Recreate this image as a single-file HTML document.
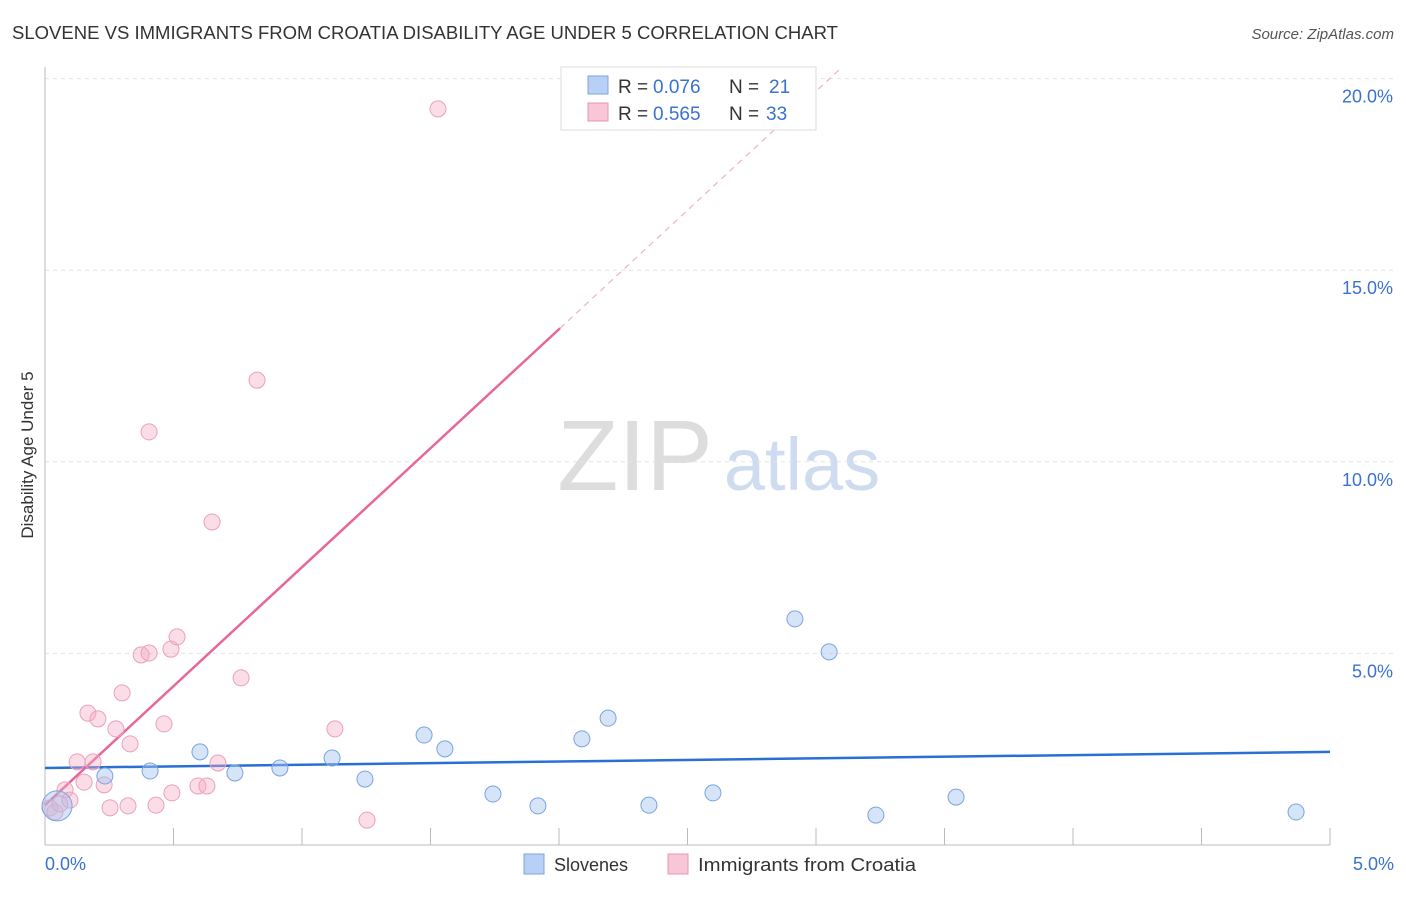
<!DOCTYPE html>
<html><head><meta charset="utf-8"><style>
body{margin:0;background:#fff;font-family:"Liberation Sans",sans-serif}
svg text{font-family:"Liberation Sans",sans-serif}
</style></head><body>
<svg id="chart" width="1406" height="892">
<text x="12" y="39" font-size="18" fill="#333" textLength="826" lengthAdjust="spacingAndGlyphs">SLOVENE VS IMMIGRANTS FROM CROATIA DISABILITY AGE UNDER 5 CORRELATION CHART</text>
<text x="1394" y="39" font-size="15" fill="#555" font-style="italic" text-anchor="end">Source: ZipAtlas.com</text>
<text x="33" y="455" font-size="17" fill="#333" text-anchor="middle" transform="rotate(-90 33 455)">Disability Age Under 5</text>
<g><text x="635" y="490" font-size="100" fill="#ddd" font-family="Liberation Serif" text-anchor="middle">ZIP</text><text x="802" y="490" font-size="74" fill="#cfdcf0" text-anchor="middle">atlas</text></g>
<g id="grid"></g><g id="lines"></g><g id="pts"></g>
<g>
<rect x="561" y="67" width="255" height="63" fill="#fff" stroke="#ddd"/>
<rect x="588" y="76" width="20" height="18" fill="#b8d0f5" stroke="#7aa4e0"/>
<rect x="588" y="103" width="20" height="18" fill="#f8c6d6" stroke="#e896b4"/>
<text y="93" font-size="19" fill="#333"><tspan x="618">R =</tspan><tspan x="653" fill="#3a72d0">0.076</tspan><tspan x="729">N =</tspan><tspan x="769" fill="#3a72d0">21</tspan></text>
<text y="120" font-size="19" fill="#333"><tspan x="618">R =</tspan><tspan x="653" fill="#3a72d0">0.565</tspan><tspan x="729">N =</tspan><tspan x="766" fill="#3a72d0">33</tspan></text>
</g>
<g>
<rect x="524" y="854" width="20" height="20" fill="#b8d0f5" stroke="#7aa4e0"/>
<text x="554" y="871" font-size="18" fill="#333">Slovenes</text>
<rect x="668" y="854" width="20" height="20" fill="#f8c6d6" stroke="#e896b4"/>
<text x="698" y="871" font-size="18" fill="#333" textLength="218" lengthAdjust="spacingAndGlyphs">Immigrants from Croatia</text>
</g>
</svg>
<script>
const yTicks=[5,10,15,20];
const xTickLabels=["0.0%","5.0%"];
const blueX=[0.047,0.233,0.409,0.603,0.739,0.914,1.117,1.245,1.475,1.556,1.743,1.918,2.089,2.191,2.350,2.599,2.918,3.051,3.233,3.545,4.868];
const blueY=[1.02,1.80,1.93,2.43,1.88,2.01,2.27,1.72,2.87,2.51,1.33,1.02,2.77,3.31,1.04,1.36,5.90,5.04,0.78,1.25,0.86];
const pinkX=[0.019,0.039,0.058,0.078,0.097,0.125,0.152,0.167,0.187,0.206,0.230,0.253,0.276,0.300,0.323,0.331,0.374,0.405,0.405,0.432,0.463,0.490,0.494,0.514,0.595,0.630,0.650,0.673,0.763,0.825,1.128,1.253,1.529];
const pinkY=[0.97,0.86,1.07,1.44,1.17,2.17,1.64,3.44,2.17,3.29,1.57,0.97,3.03,3.97,1.02,2.64,4.96,5.01,10.78,1.04,3.16,5.11,1.36,5.43,1.54,1.54,8.43,2.14,4.36,12.13,3.03,0.65,19.21];
const blueLine=[2.01,2.43];
const pinkLine=[1.04,6.21];
const X=v=>45+v*257, Y=v=>845-v*38.32;
const NS="http://www.w3.org/2000/svg";
function mk(t,a,p){const e=document.createElementNS(NS,t);for(const k in a)e.setAttribute(k,a[k]);p.appendChild(e);return e;}
const grid=document.getElementById('grid');
yTicks.forEach(t=>{
 const l=mk('line',{x1:45,x2:1394,y1:Y(t),y2:Y(t),stroke:'#e4e4e4','stroke-dasharray':'4 4'},grid);
 
 
 const tx=mk('text',{x:1393,y:Y(t)+24,'font-size':18,fill:'#3a72d0','text-anchor':'end'},grid);
 tx.textContent=t.toFixed(1)+'%';
 
 
});
mk('line',{x1:45,x2:45,y1:67,y2:845,stroke:'#bbb'},grid);
mk('line',{x1:45,x2:1330,y1:845,y2:845,stroke:'#bbb'},grid);
for(let i=0;i<=10;i++){mk('line',{x1:X(i*0.5),x2:X(i*0.5),y1:828,y2:845,stroke:'#bbb'},grid);}
xTickLabels.forEach((s,i)=>{const t=mk('text',{x:i?1394:45,y:870,'font-size':18,fill:'#3a72d0','text-anchor':i?'end':'start'},grid);t.textContent=s;
 
 });
const pts=document.getElementById('pts');
pinkX.forEach((x,i)=>{const c=mk('circle',{cx:X(x),cy:Y(pinkY[i]),r:8,fill:'rgba(245,170,195,0.4)',stroke:'#eba0bc','stroke-width':1},pts);
 
 });
blueX.forEach((x,i)=>{const c=mk('circle',{cx:X(x),cy:Y(blueY[i]),r:i===0?15:8,fill:'rgba(165,195,240,0.45)',stroke:'#7aa4e0','stroke-width':1},pts);
 
 });
const lines=document.getElementById('lines');
const bl=mk('line',{x1:X(0),y1:Y(blueLine[0]),x2:X(5),y2:Y(blueLine[1]),stroke:'#2a6fd4','stroke-width':2.5},lines);


const pl=mk('line',{x1:X(0),y1:Y(pinkLine[0]),x2:X(2.004),y2:Y(pinkLine[0]+pinkLine[1]*2.004),stroke:'#e8679a','stroke-width':2.5},lines);


const xe=(20.3-pinkLine[0])/pinkLine[1];
const pd=mk('line',{x1:X(2.004),y1:Y(pinkLine[0]+pinkLine[1]*2.004),x2:X(xe),y2:Y(20.3),stroke:'#eeb0c8','stroke-width':1.2,'stroke-dasharray':'6 5'},lines);


</script>
</body></html>
